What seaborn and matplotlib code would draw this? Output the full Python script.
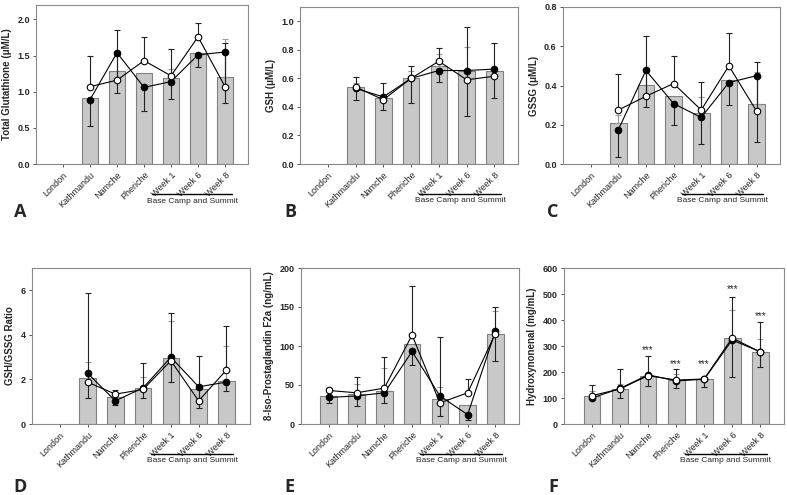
import numpy as np
import pandas as pd
import matplotlib
matplotlib.use("Agg")
import matplotlib.pyplot as plt
import matplotlib.transforms as mtransforms
import seaborn as sns

sns.set_style("white")
plt.rcParams['font.family'] = ['Liberation Sans', 'DejaVu Sans']

nan = np.nan
categories = ["London", "Kathmandu", "Namche", "Pheriche", "Week 1", "Week 6", "Week 8"]

# ---- Panel A: Total Glutathione ----
a_bar = [nan, 0.92, 1.29, 1.26, 1.19, 1.54, 1.20]
a_bar_up = [nan, nan, nan, nan, 0.13, nan, 0.53]
a_filled = [nan, 0.89, 1.54, 1.06, 1.14, 1.51, 1.55]
a_filled_dn = [nan, 0.36, 0.56, 0.32, 0.24, 0.17, 0.70]
a_open = [nan, 1.07, 1.16, 1.43, 1.22, 1.76, 1.07]
a_open_up = [nan, 0.43, 0.70, 0.33, 0.37, 0.19, 0.60]

# ---- Panel B: GSH ----
b_bar = [nan, 0.54, 0.46, 0.60, 0.69, 0.65, 0.65]
b_bar_up = [nan, 0.025, nan, 0.055, 0.08, 0.17, nan]
b_filled = [nan, 0.53, 0.47, 0.60, 0.655, 0.655, 0.665]
b_filled_dn = [nan, 0.085, 0.095, 0.17, 0.08, 0.32, 0.205]
b_open = [nan, 0.54, 0.45, 0.60, 0.72, 0.59, 0.615]
b_open_up = [nan, 0.07, 0.115, 0.085, 0.095, 0.37, 0.235]

# ---- Panel C: GSSG ----
c_bar = [nan, 0.21, 0.405, 0.345, 0.26, 0.43, 0.305]
c_bar_up = [nan, 0.04, nan, nan, 0.08, nan, 0.165]
c_filled = [nan, 0.174, 0.477, 0.308, 0.237, 0.415, 0.45]
c_filled_dn = [nan, 0.14, 0.187, 0.108, 0.137, 0.115, 0.34]
c_open = [nan, 0.275, 0.345, 0.41, 0.275, 0.50, 0.27]
c_open_up = [nan, 0.185, 0.305, 0.14, 0.145, 0.165, 0.25]

# ---- Panel D: GSH/GSSG Ratio ----
d_bar = [nan, 2.07, 1.19, 1.61, 2.97, 1.57, 1.91]
d_bar_up = [nan, 0.71, nan, 0.51, 1.67, nan, 1.58]
d_filled = [nan, 2.28, 1.04, 1.62, 3.00, 1.67, 1.88]
d_filled_dn = [nan, 1.13, 0.17, 0.46, 1.12, 0.95, 0.38]
d_open = [nan, 1.88, 1.34, 1.55, 2.84, 1.04, 2.42]
d_open_up = [nan, 3.99, 0.20, 1.18, 2.16, 2.01, 1.97]

# ---- Panel E: 8-Iso-Prostaglandin F2a ----
e_bar = [36, 38, 42, 103, 32, 24, 115]
e_bar_up = [nan, 13, 30, nan, 15, nan, 30]
e_filled = [34, 36, 40, 93, 36, 12, 119]
e_filled_dn = [7, 13, 13, 17, 26, 7, 38]
e_open = [43, 40, 46, 114, 27, 40, 116]
e_open_up = [3, 20, 40, 63, 85, 18, 34]

# ---- Panel F: Hydroxynonenal ----
f_bar = [108, 135, 185, 168, 175, 332, 278]
f_bar_up = [20, 19, nan, 23, nan, 106, 49]
f_filled = [100, 137, 189, 166, 172, 323, 278]
f_filled_dn = [5, 37, 43, 28, 30, 144, 57]
f_open = [109, 135, 186, 169, 173, 331, 277]
f_open_up = [42, 75, 76, 41, 8, 156, 114]
f_star_cats = ["Namche", "Pheriche", "Week 1", "Week 6", "Week 8"]
f_star_y = [285, 231, 231, 518, 417]

panels = [
    dict(letter="A", ylabel="Total Glutathione (\u03bcM/L)", bar=a_bar, bar_up=a_bar_up,
         filled=a_filled, filled_dn=a_filled_dn, open=a_open, open_up=a_open_up,
         ylim=2.2, ticks=[0, 0.5, 1.0, 1.5, 2.0], fmt="{:.1f}",
         rect=[36, 5, 248, 164], letter_xy=(20, 212)),
    dict(letter="B", ylabel="GSH (\u03bcM/L)", bar=b_bar, bar_up=b_bar_up,
         filled=b_filled, filled_dn=b_filled_dn, open=b_open, open_up=b_open_up,
         ylim=1.1, ticks=[0, 0.2, 0.4, 0.6, 0.8, 1.0], fmt="{:.1f}",
         rect=[300, 7, 518, 164], letter_xy=(290, 212)),
    dict(letter="C", ylabel="GSSG (\u03bcM/L)", bar=c_bar, bar_up=c_bar_up,
         filled=c_filled, filled_dn=c_filled_dn, open=c_open, open_up=c_open_up,
         ylim=0.8, ticks=[0, 0.2, 0.4, 0.6, 0.8], fmt="{:.1f}",
         rect=[563, 7, 780, 164], letter_xy=(553, 212)),
    dict(letter="D", ylabel="GSH/GSSG Ratio", bar=d_bar, bar_up=d_bar_up,
         filled=d_filled, filled_dn=d_filled_dn, open=d_open, open_up=d_open_up,
         ylim=7, ticks=[0, 2, 4, 6], fmt="{:.0f}",
         rect=[32, 268, 250, 424], letter_xy=(20, 487)),
    dict(letter="E", ylabel="8-Iso-Prostaglandin F2a (ng/mL)", bar=e_bar, bar_up=e_bar_up,
         filled=e_filled, filled_dn=e_filled_dn, open=e_open, open_up=e_open_up,
         ylim=200, ticks=[0, 50, 100, 150, 200], fmt="{:.0f}",
         rect=[301, 268, 519, 424], letter_xy=(289, 487)),
    dict(letter="F", ylabel="Hydroxynonenal (mg/mL)", bar=f_bar, bar_up=f_bar_up,
         filled=f_filled, filled_dn=f_filled_dn, open=f_open, open_up=f_open_up,
         ylim=600, ticks=[0, 100, 200, 300, 400, 500, 600], fmt="{:.0f}",
         rect=[564, 268, 784, 424], letter_xy=(553, 487)),
]

W, H = 787, 495
fig = plt.figure(figsize=(W / 100, H / 100), dpi=100)

frame_color = "#8a8a8a"
bar_face = "#c8c8c8"
bar_edge = "#808080"


def errbars(ax, vals, errs, upward, color, z):
    pos = np.arange(len(categories))
    v = np.asarray(vals, float)
    e = np.asarray(errs, float)
    m = ~np.isnan(v) & ~np.isnan(e)
    if not m.any():
        return
    zeros = np.zeros(m.sum())
    yerr = [zeros, e[m]] if upward else [e[m], zeros]
    ax.errorbar(pos[m], v[m], yerr=yerr, fmt="none", ecolor=color,
                elinewidth=0.8, capsize=2.2, capthick=0.8, zorder=z)


for p in panels:
    l, t, r, b = p["rect"]
    ax = fig.add_axes([l / W, 1 - b / H, (r - l) / W, (b - t) / H])
    df = pd.DataFrame({"cat": categories, "val": p["bar"]})
    sns.barplot(data=df, x="cat", y="val", order=categories, color=bar_face,
                saturation=1, edgecolor=bar_edge, linewidth=0.8, width=0.6,
                errorbar=None, ax=ax, zorder=1)
    errbars(ax, p["bar"], p["bar_up"], True, "#9a9a9a", 2)
    errbars(ax, p["filled"], p["filled_dn"], False, "#222222", 3)
    errbars(ax, p["open"], p["open_up"], True, "#222222", 3)
    dff = pd.DataFrame({"cat": categories, "val": p["filled"]})
    sns.pointplot(data=dff, x="cat", y="val", order=categories, color="black",
                  errorbar=None, ax=ax, linewidth=0.8, markersize=4.7,
                  markeredgewidth=0.8, zorder=4)
    dfo = pd.DataFrame({"cat": categories, "val": p["open"]})
    sns.pointplot(data=dfo, x="cat", y="val", order=categories, color="black",
                  errorbar=None, ax=ax, linewidth=0.8, markersize=4.7,
                  markeredgewidth=0.8, markerfacecolor="white", zorder=5)

    ax.set_xlim(-1, 6.85)
    ax.set_ylim(0, p["ylim"])
    ax.set_yticks(p["ticks"])
    ax.set_yticklabels([p["fmt"].format(v) for v in p["ticks"]], fontsize=6.5,
                       fontweight="bold")
    ax.set_xticks(range(len(categories)))
    ax.set_xticklabels(categories, rotation=45, ha="right", rotation_mode="anchor",
                       fontsize=6.5)
    ax.set_xlabel("")
    ax.set_ylabel(p["ylabel"], fontsize=7, fontweight="bold", labelpad=4)
    for s in ax.spines.values():
        s.set_color(frame_color)
        s.set_linewidth(0.8)
    ax.tick_params(axis="both", which="major", direction="out", length=2.5,
                   width=0.7, color="#555555", pad=2, left=True, bottom=True)

    trans = mtransforms.blended_transform_factory(ax.transData, ax.transAxes)
    ax.plot([3.3, 6.25], [-0.19, -0.19], transform=trans, clip_on=False,
            color="black", linewidth=1.0)
    ax.text(4.78, -0.235, "Base Camp and Summit", transform=trans, ha="center",
            va="center", fontsize=6)

    if p["letter"] == "F":
        for c, y in zip(f_star_cats, f_star_y):
            ax.text(categories.index(c), y, "***", ha="center", va="center",
                    fontsize=7)

    lx, ly = p["letter_xy"]
    fig.text(lx / W, 1 - ly / H, p["letter"], ha="center", va="center",
             fontsize=13, fontweight="bold", family=["Open Sans", "DejaVu Sans"])

fig.savefig("out.png", dpi=100)
